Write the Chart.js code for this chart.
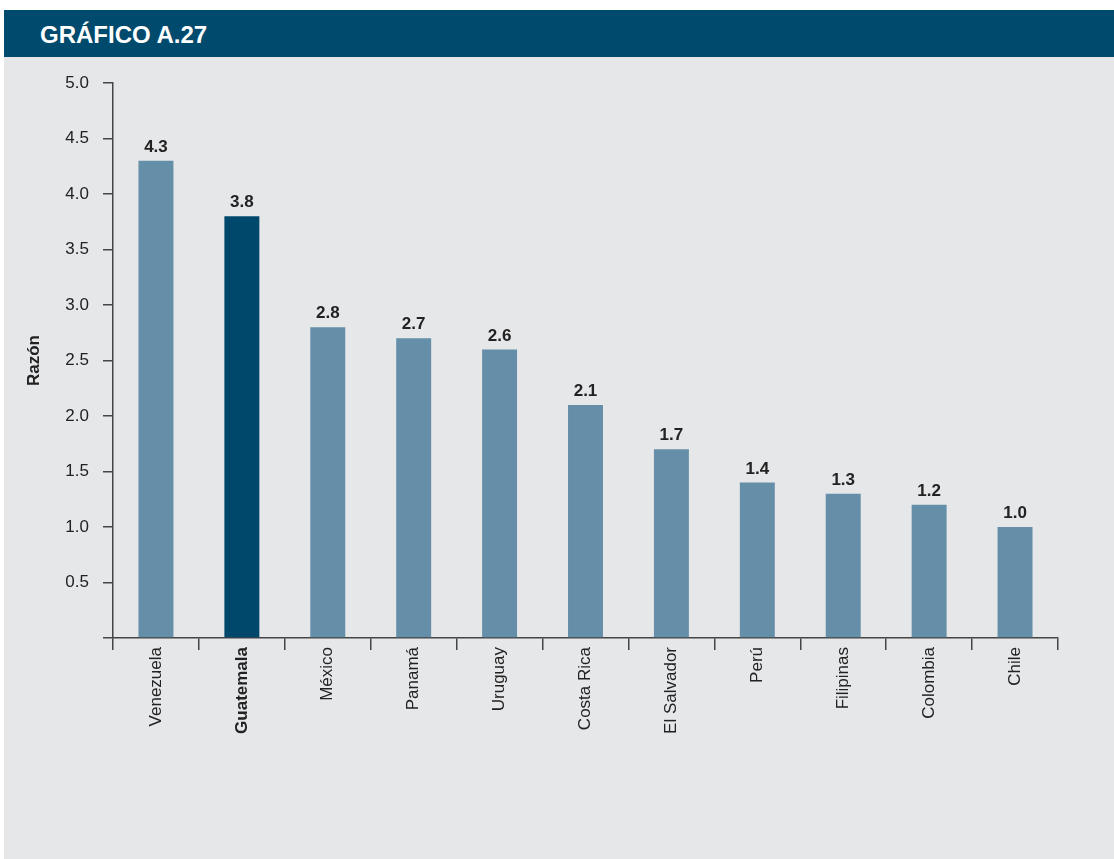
<!DOCTYPE html>
<html lang="es">
<head>
<meta charset="utf-8">
<title>Gráfico A.27</title>
<script src="https://cdn.jsdelivr.net/npm/chart.js@4/dist/chart.umd.min.js"></script>
<style>
  html, body { margin: 0; padding: 0; background: #fff; }
  .panel {
    position: absolute; left: 4px; top: 10px;
    width: 1110px; height: 849px;
    background: #e6e7e9;
  }
  .panel-head {
    height: 47px;
    background: #004a6d; color: #fff;
    font: bold 24px "Liberation Sans", Arial, sans-serif;
    line-height: 49px;
    padding-left: 36px;
  }
  #chart { display: block; }
</style>
</head>
<body>
<div class="panel">
  <div class="panel-head">GRÁFICO A.27</div>
  <canvas id="chart" width="1110" height="802"></canvas>
</div>
<script>
const paises = ['Venezuela', 'Guatemala', 'México', 'Panamá', 'Uruguay', 'Costa Rica',
  'El Salvador', 'Perú', 'Filipinas', 'Colombia', 'Chile'];
const razon = [4.3, 3.8, 2.8, 2.7, 2.6, 2.1, 1.7, 1.4, 1.3, 1.2, 1.0];
const destacado = 'Guatemala';

const FONT = '"Liberation Sans", Arial, sans-serif';
const AXIS = '#454545';
const TXT = '#222';

const colores = paises.map(p => p === destacado ? '#00486b' : '#658fa8');

// value above each bar
const etiquetas = {
  id: 'etiquetas',
  afterDatasetsDraw(chart){
    const {ctx} = chart;
    const meta = chart.getDatasetMeta(0);
    ctx.save();
    ctx.font = 'bold 17px ' + FONT;
    ctx.fillStyle = TXT;
    ctx.textAlign = 'center';
    ctx.textBaseline = 'bottom';
    meta.data.forEach((bar, i) => {
      ctx.fillText(razon[i].toFixed(1), bar.x, bar.y - 5);
    });
    ctx.restore();
  }
};

new Chart(document.getElementById('chart').getContext('2d'), {
  type: 'bar',
  data: {
    labels: paises,
    datasets: [{ data: razon, backgroundColor: colores, barPercentage: 0.407, categoryPercentage: 1 }]
  },
  options: {
    responsive: false,
    animation: false,
    layout: { padding: { top: 26, right: 56, left: 0, bottom: 0 } },
    plugins: { legend: { display: false }, tooltip: { enabled: false } },
    scales: {
      y: {
        min: 0, max: 5,
        afterFit: s => { s.width = 109; },
        border: { display: true, color: AXIS, width: 1.5 },
        grid: { drawOnChartArea: false, tickLength: 10, color: AXIS, lineWidth: 1.5 },
        ticks: {
          stepSize: 0.5,
          padding: 14,
          color: TXT,
          font: { family: FONT, size: 17 },
          callback: v => v === 0 ? '' : v.toFixed(1)
        },
        title: {
          display: true, text: 'Razón', color: TXT,
          font: { family: FONT, size: 17, weight: 'bold' },
          padding: { top: 20, bottom: 0 }
        }
      },
      x: {
        afterFit: s => { s.height = 221; },
        border: { display: true, color: AXIS, width: 1.5 },
        grid: { offset: true, drawOnChartArea: false, tickLength: 12, color: AXIS, lineWidth: 1.5 },
        ticks: {
          minRotation: 90, maxRotation: 90,
          padding: -3,
          autoSkip: false,
          color: TXT,
          font: c => ({ family: FONT, size: 17, weight: paises[c.index] === destacado ? 'bold' : 'normal' })
        }
      }
    }
  },
  plugins: [etiquetas]
});
</script>
</body>
</html>
